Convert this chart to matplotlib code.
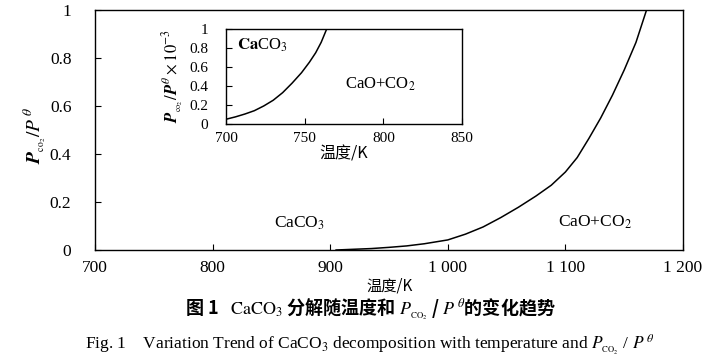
import matplotlib
matplotlib.use("Agg")
import matplotlib.pyplot as plt

plt.rcParams['font.family'] = ['Liberation Serif', 'Noto Sans CJK SC']
plt.rcParams['mathtext.fontset'] = 'stix'

# main curve: equilibrium CO2 pressure over CaCO3
temp_main = [905, 920, 935, 950, 965, 980, 1000, 1015, 1030, 1045, 1060, 1075, 1088,
             1100, 1110, 1120, 1130, 1140, 1150, 1160, 1169]
p_main = [0.0, 0.003, 0.006, 0.011, 0.017, 0.026, 0.042, 0.066, 0.096, 0.135, 0.178, 0.225, 0.27,
          0.325, 0.385, 0.465, 0.55, 0.645, 0.75, 0.865, 1.0]

# inset: low-temperature part (x 10^-3)
temp_inset = [700, 706, 712, 718, 724, 730, 736, 742, 748, 753, 757, 760.5, 764]
p_inset = [0.05, 0.075, 0.105, 0.14, 0.19, 0.25, 0.33, 0.43, 0.54, 0.65, 0.75, 0.86, 1.0]

main_xticks = [700, 800, 900, 1000, 1100, 1200]
main_xlabels = ['700', '800', '900', '1 000', '1 100', '1 200']
main_yticks = [0, 0.2, 0.4, 0.6, 0.8, 1]
main_ylabels = ['0', '0.2', '0.4', '0.6', '0.8', '1']
inset_xticks = [700, 750, 800, 850]
inset_yticks = [0, 0.2, 0.4, 0.6, 0.8, 1]

fig = plt.figure(figsize=(7.11, 3.62), dpi=100)

# main axes
ax = fig.add_axes([95 / 711, 1 - 250 / 362, 588 / 711, 240 / 362])
ax.plot(temp_main, p_main, color='black', lw=1.1)
ax.set_xlim(700, 1200)
ax.set_ylim(0, 1)
ax.set_xticks(main_xticks)
ax.set_xticklabels(main_xlabels)
ax.set_yticks(main_yticks)
ax.set_yticklabels(main_ylabels)
ax.tick_params(direction='in', length=4, width=0.8, labelsize=12.5)
ax.tick_params(axis='x', pad=7)
ax.tick_params(axis='y', pad=17)
for s in ax.spines.values():
    s.set_linewidth(1.0)
ax.text(874, 0.11, r'CaCO$_3$', fontsize=12.5, ha='center', va='center')
ax.text(1125, 0.115, r'CaO+CO$_2$', fontsize=12.5, ha='center', va='center')

# inset axes
ins = fig.add_axes([226 / 711, 1 - 124 / 362, 236 / 711, 95 / 362])
ins.plot(temp_inset, p_inset, color='black', lw=1.1)
ins.set_xlim(700, 850)
ins.set_ylim(0, 1)
ins.set_xticks(inset_xticks)
ins.set_yticks(inset_yticks)
ins.set_yticklabels(['0', '0.2', '0.4', '0.6', '0.8', '1'])
ins.tick_params(direction='in', length=4, width=0.8, labelsize=11)
ins.tick_params(axis='x', pad=6)
ins.tick_params(axis='y', pad=13)
for s in ins.spines.values():
    s.set_linewidth(1.0)
ins.text(723, 0.83, r'$\mathbf{Ca}$CO$_3$', fontsize=12, ha='center', va='center')
ins.text(798, 0.42, r'CaO+CO$_2$', fontsize=12, ha='center', va='center')
ins.set_xlabel('温度/K', fontsize=11.5, family=['Noto Sans CJK SC'], labelpad=0)
ins.set_ylabel(r'$\mathbfit{P}_{_{\rm co_2}}/\mathbfit{P}^{\,\theta}\times10^{-3}$', fontsize=12, labelpad=2)

# labels on the main axes
fig.text(390 / 711, 1 - 286 / 362, '温度/K', fontsize=11, family=['Noto Sans CJK SC'],
         ha='center', va='center')
fig.text(35 / 711, 1 - 135 / 362, r'$\mathbfit{P}_{_{\rm co_2}}/P^{\,\theta}$', fontsize=14,
         rotation=90, ha='center', va='center')

# captions
fig.text(370 / 711, 1 - 309 / 362,
         r'图 1   $\mathrm{CaCO_3}$ 分解随温度和 $P_{_{\rm CO_2}}$ / $P^{\,\theta}$的变化趋势',
         fontsize=13, family=['Noto Sans CJK SC'], weight='bold', ha='center', va='center')
fig.text(370 / 711, 1 - 345 / 362,
         r'Fig. 1    Variation Trend of CaCO$_3$ decomposition with temperature and $P_{_{\rm CO_2}}$ / $P^{\,\theta}$',
         fontsize=12.5, family=['Liberation Serif'], ha='center', va='center')

fig.savefig('out.png', dpi=100)
